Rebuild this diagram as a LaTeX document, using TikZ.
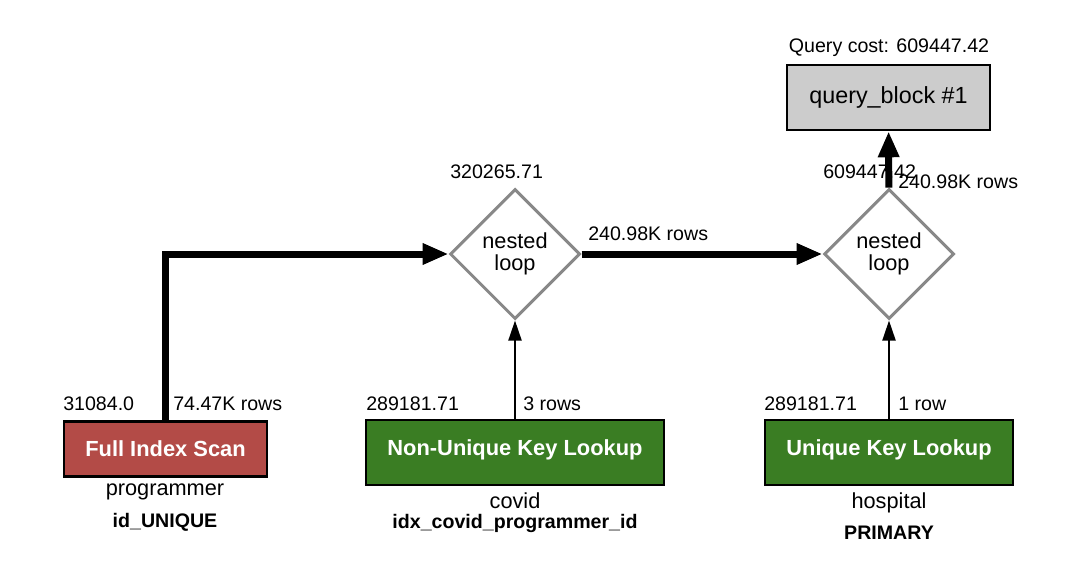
\documentclass[tikz,border=0pt]{standalone}
\usepackage{fontspec}
\setmainfont{Liberation Sans}
\usetikzlibrary{shapes.geometric,arrows.meta}
\definecolor{scanred}{HTML}{B34B47}
\definecolor{lookgreen}{HTML}{3A7D23}
\definecolor{blockgray}{HTML}{CCCCCC}
\definecolor{loopgray}{HTML}{888888}
\newcommand{\lblfont}{\fontsize{14.7}{15}\selectfont}
\newcommand{\tblfont}{\fontsize{16.3}{16.5}\selectfont}
\newcommand{\boxfont}{\fontsize{16.4}{18}\selectfont\bfseries}
\newcommand{\qbfont}{\fontsize{17.5}{20}\selectfont}
\tikzset{
  lbl/.style={inner sep=0pt, font=\lblfont},
  lblb/.style={inner sep=0pt, font=\lblfont\bfseries},
  tbl/.style={inner sep=0pt, font=\tblfont},
  opbox/.style={draw=black, line width=1.9pt, text=white, font=\boxfont, inner sep=0pt},
  loopnode/.style={diamond, draw=loopgray, line width=2.25pt, fill=white, minimum width=97.5pt, minimum height=97.5pt, inner sep=0pt, align=center, font=\tblfont},
  thickflow/.style={line width=5.25pt, -{Triangle[length=19.5pt,width=15pt]}},
  thinflow/.style={line width=1.5pt, -{Triangle[length=15pt,width=9.75pt]}},
}
\begin{document}
\begin{tikzpicture}[x=0.75pt,y=-0.75pt]
\useasboundingbox (0,0) rectangle (1084,574);
% operation boxes
\node[opbox, fill=scanred, minimum width=152.25pt, minimum height=41.25pt] (fis) at (165.5,449) {Full Index Scan};
\node[opbox, fill=lookgreen, minimum width=223.5pt, minimum height=48.75pt, text depth=8pt] (nukl) at (515,452.5) {Non-Unique Key Lookup};
\node[opbox, fill=lookgreen, minimum width=186pt, minimum height=48.75pt, text depth=8pt] (ukl) at (889,452.5) {Unique Key Lookup};
\node[draw=black, line width=1.9pt, fill=blockgray, minimum width=152.25pt, minimum height=48.75pt, inner sep=0pt, font=\qbfont] (qb) at (888.5,97.5) {query\_block \#1};
% loops
\node[loopnode] (nl1) at (515,254) {nested\\loop};
\node[loopnode] (nl2) at (889,254) {nested\\loop};
% connectors
\draw[thickflow] (fis) |- (nl1);
\draw[thickflow] (nl1) -- (nl2);
\draw[thickflow] (nl2) -- (qb);
\draw[thinflow] (nukl) -- (nl1);
\draw[thinflow] (ukl) -- (nl2);
% labels
\node[lbl, anchor=base west] (c1) at (63,410) {31084.0};
\node[lbl, anchor=base west] (r1) at (173,410) {74.47K rows};
\node[tbl, anchor=base] (t1) at (165,495) {programmer};
\node[lblb, anchor=base] (k1) at (165,527) {id\_UNIQUE};
\node[lbl, anchor=base west] (c2) at (366,410) {289181.71};
\node[lbl, anchor=base west] (r2) at (523,410) {3 rows};
\node[tbl, anchor=base] (t2) at (515,508) {covid};
\node[lblb, anchor=base] (k2) at (515,528) {idx\_covid\_programmer\_id};
\node[lbl, anchor=base west] (c3) at (764,410) {289181.71};
\node[lbl, anchor=base west] (r3) at (898,410) {1 row};
\node[tbl, anchor=base] (t3) at (889,508) {hospital};
\node[lblb, anchor=base] (k3) at (889,539) {PRIMARY};
\node[lbl, anchor=base west] (c4) at (450,178) {320265.71};
\node[lbl, anchor=base west] (r4) at (588,240) {240.98K rows};
\node[lbl, anchor=base west] (c5) at (823,178) {609447.42};
\node[lbl, anchor=base west] (r5) at (898,188) {240.98K rows};
\node[lbl, anchor=base] (qc) at (889,53) {Query cost: 609447.42};
\end{tikzpicture}
\end{document}
